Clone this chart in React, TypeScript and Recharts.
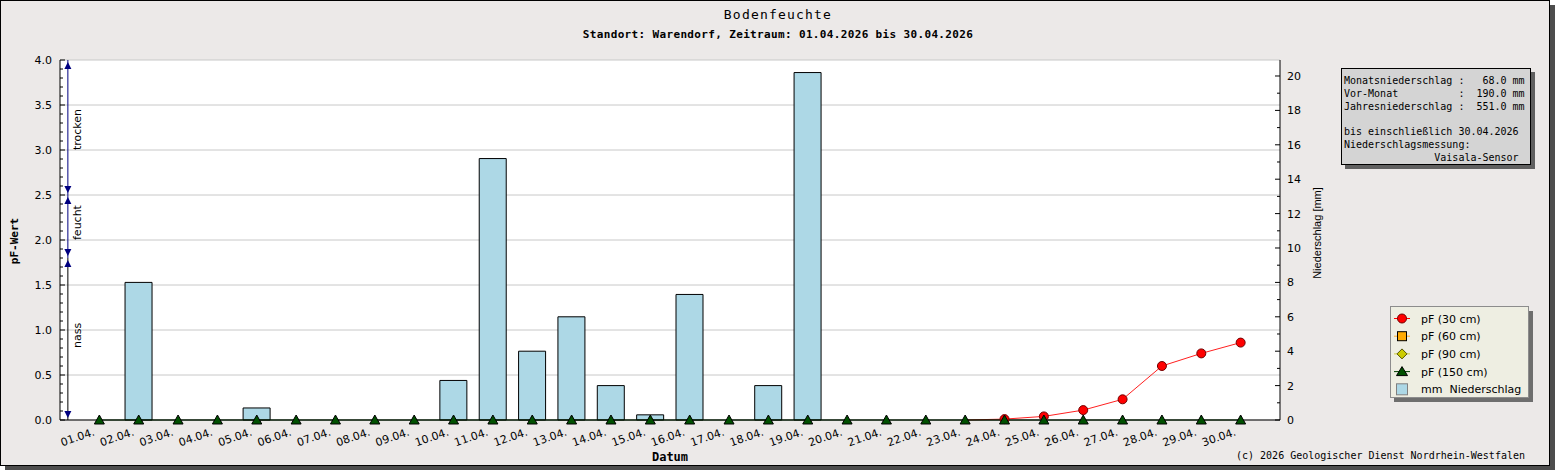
import React from "react";
import {
  ComposedChart,
  Bar,
  Line,
  XAxis,
  YAxis,
  CartesianGrid,
  ReferenceLine,
  ReferenceDot,
} from "recharts";

// Tage im April
const dayLabels = [
  "01.04.", "02.04.", "03.04.", "04.04.", "05.04.", "06.04.", "07.04.", "08.04.", "09.04.", "10.04.",
  "11.04.", "12.04.", "13.04.", "14.04.", "15.04.", "16.04.", "17.04.", "18.04.", "19.04.", "20.04.",
  "21.04.", "22.04.", "23.04.", "24.04.", "25.04.", "26.04.", "27.04.", "28.04.", "29.04.", "30.04.",
];

// Niederschlag in mm pro Tag
const rainMm = [
  0, 8.0, 0, 0, 0.7, 0, 0, 0, 0, 2.3,
  15.2, 4.0, 6.0, 2.0, 0.3, 7.3, 0, 2.0, 20.2, 0,
  0, 0, 0, 0, 0, 0, 0, 0, 0, 0,
];

// pF-Werte je Tiefe
const pf30cm = [
  null, null, null, null, null, null, null, null, null, null,
  null, null, null, null, null, null, null, null, null, null,
  null, null, 0, 0.01, 0.04, 0.11, 0.23, 0.6, 0.74, 0.86,
];
const pf60cm = [
  null, null, null, null, null, null, null, null, null, null,
  null, null, null, null, null, null, null, null, null, null,
  null, null, null, null, null, null, null, null, null, null,
];
const pf90cm = [
  null, null, null, null, null, null, null, null, null, null,
  null, null, null, null, null, null, null, null, null, null,
  null, null, null, null, null, null, null, null, null, null,
];
const pf150cm = [
  0, 0, 0, 0, 0, 0, 0, 0, 0, 0,
  0, 0, 0, 0, 0, 0, 0, 0, 0, 0,
  0, 0, 0, 0, 0, 0, 0, 0, 0, 0,
];

const PF_MAX = 4;
const MM_MAX = 20.93;
const pfMajorTicks = [0, 0.5, 1, 1.5, 2, 2.5, 3, 3.5, 4];
const pfTicks = Array.from({ length: 41 }, (_, i) => i / 10);
const mmTicks = Array.from({ length: 21 }, (_, i) => i);
const dayTicks = dayLabels.map((_, i) => i + 1);

// Bodenfeuchte-Bereiche (links am Rand)
const moistureZones = [
  { name: "trocken", from: 2.5, to: 4.0, labelAt: 3.0, line: "#000080" },
  { name: "feucht", from: 1.8, to: 2.5, labelAt: 2.0, line: "#000080" },
  { name: "nass", from: 0.0, to: 1.8, labelAt: 0.8, line: "#000000" },
];
const zoneX = 0.2;

const infoLines = [
  { text: "Monatsniederschlag :   68.0 mm", y: 83.5 },
  { text: "Vor-Monat          :  190.0 mm", y: 96.8 },
  { text: "Jahresniederschlag :  551.0 mm", y: 110.1 },
  { text: "bis einschließlich 30.04.2026", y: 134.5 },
  { text: "Niederschlagsmessung:", y: 147.8 },
  { text: "               Vaisala-Sensor", y: 160.9 },
];

const legendItems = [
  { label: "pF (30 cm)", kind: "circle" },
  { label: "pF (60 cm)", kind: "square" },
  { label: "pF (90 cm)", kind: "diamond" },
  { label: "pF (150 cm)", kind: "triangle" },
  { label: "mm  Niederschlag", kind: "bar" },
];

const SANS = "'DejaVu Sans', sans-serif";
const MONO = "'DejaVu Sans Mono', monospace";

const rows = dayLabels.map((label, i) => ({
  day: i + 1,
  label,
  rain: rainMm[i],
  pf30: pf30cm[i],
  pf60: pf60cm[i],
  pf90: pf90cm[i],
  pf150: pf150cm[i],
}));

const PfTick = (props: any) => {
  const { x, y, payload } = props;
  const v = payload.value;
  const major = Math.abs(v * 2 - Math.round(v * 2)) < 1e-6;
  return (
    <g>
      <line x1={x} x2={x + (major ? 5 : 3)} y1={y} y2={y} stroke="#000" />
      {major && (
        <text x={x - 8} y={y + 4} textAnchor="end" fontSize={11} fontFamily={SANS} fill="#000">
          {v.toFixed(1)}
        </text>
      )}
    </g>
  );
};

const MmTick = (props: any) => {
  const { x, y, payload } = props;
  const v = payload.value;
  const major = v % 2 === 0;
  return (
    <g>
      <line x1={x} x2={x - (major ? 5 : 3)} y1={y} y2={y} stroke="#000" />
      {major && (
        <text x={x + 7} y={y + 4} textAnchor="start" fontSize={11} fontFamily={SANS} fill="#000">
          {v}
        </text>
      )}
    </g>
  );
};

const DayTick = (props: any) => {
  const { x, y, payload } = props;
  const tx = x - 4;
  const ty = y + 15;
  return (
    <text
      x={tx}
      y={ty}
      textAnchor="end"
      fontSize={11}
      fontFamily={SANS}
      fill="#000"
      transform={`rotate(-19, ${tx}, ${ty})`}
    >
      {dayLabels[payload.value - 1]}
    </text>
  );
};

const redDot = (props: any) => {
  const { cx, cy, index, value } = props;
  if (value === 0 || value == null) return <g key={`r${index}`} />;
  return <circle key={`r${index}`} cx={cx} cy={cy} r={4.5} fill="#ff0000" stroke="#700000" strokeWidth={1} />;
};

const greenDot = (props: any) => {
  const { cx, cy, index } = props;
  return (
    <path
      key={`g${index}`}
      d={`M${cx},${cy - 5} L${cx + 5},${cy + 4} L${cx - 5},${cy + 4} Z`}
      fill="#005000"
      stroke="#000"
      strokeWidth={1}
    />
  );
};

const upArrow = (props: any) => {
  const { cx, cy } = props;
  const t = cy + 2;
  return <path d={`M${cx},${t} L${cx + 3.5},${t + 7} L${cx - 3.5},${t + 7} Z`} fill="#000080" />;
};

const downArrow = (props: any) => {
  const { cx, cy } = props;
  const t = cy - 2;
  return <path d={`M${cx},${t} L${cx + 3.5},${t - 7} L${cx - 3.5},${t - 7} Z`} fill="#000080" />;
};

const zoneLabel = (name: string) => (props: any) => {
  const { cx, cy } = props;
  const tx = cx + 13;
  return (
    <text x={tx} y={cy} transform={`rotate(-90, ${tx}, ${cy})`} fontSize={11} fontFamily={SANS} fill="#000">
      {name}
    </text>
  );
};

// Gitterlinien nur an den Haupt-Ticks der pF-Achse
const gridLines = ({ offset }: any) =>
  pfMajorTicks.map((t) => offset.top + offset.height * (1 - t / PF_MAX));

const LegendMarker = ({ kind, cx, cy }: { kind: string; cx: number; cy: number }) => {
  if (kind === "circle")
    return (
      <g>
        <line x1={cx - 8} x2={cx + 8} y1={cy} y2={cy} stroke="#ff0000" />
        <circle cx={cx} cy={cy} r={4.5} fill="#ff0000" stroke="#700000" />
      </g>
    );
  if (kind === "square")
    return (
      <g>
        <line x1={cx - 8} x2={cx + 8} y1={cy} y2={cy} stroke="#ffb030" />
        <rect x={cx - 4.5} y={cy - 4.5} width={9} height={9} fill="#ffaa00" stroke="#000" />
      </g>
    );
  if (kind === "diamond")
    return (
      <g>
        <line x1={cx - 8} x2={cx + 8} y1={cy} y2={cy} stroke="#d0d040" />
        <path d={`M${cx},${cy - 5} L${cx + 5},${cy} L${cx},${cy + 5} L${cx - 5},${cy} Z`} fill="#cccc00" stroke="#555500" />
      </g>
    );
  if (kind === "triangle")
    return (
      <g>
        <line x1={cx - 8} x2={cx + 8} y1={cy} y2={cy} stroke="#004000" />
        <path d={`M${cx},${cy - 5} L${cx + 5.5},${cy + 4} L${cx - 5.5},${cy + 4} Z`} fill="#005000" stroke="#000" />
      </g>
    );
  return <rect x={cx - 5.5} y={cy - 5.5} width={11} height={11} fill="#add8e6" stroke="#808080" />;
};

export default function App() {
  return (
    <div style={{ position: "absolute", left: 0, top: 0, width: 1555, height: 470, fontFamily: SANS }}>
      <div
        style={{
          position: "absolute",
          left: 0,
          top: 0,
          width: 1548,
          height: 464,
          border: "1px solid #000",
          background: "#ece9e8",
          boxShadow: "5px 5px 0 #4d4d4d",
        }}
      >
        <ComposedChart width={1548} height={464} data={rows} margin={{ top: 59, right: 0, bottom: 0, left: 0 }}>
          <CartesianGrid
            yAxisId="pf"
            vertical={false}
            stroke="#c8c8c8"
            fill="#ffffff"
            fillOpacity={1}
            horizontalCoordinatesGenerator={gridLines}
          />
          <XAxis
            dataKey="day"
            type="number"
            domain={[0, 31]}
            ticks={dayTicks}
            interval={0}
            tickSize={0}
            tickMargin={0}
            tickLine={false}
            tick={DayTick}
            axisLine={{ stroke: "#000" }}
            height={45}
          />
          <YAxis
            yAxisId="pf"
            orientation="left"
            width={59}
            domain={[0, PF_MAX]}
            ticks={pfTicks}
            interval={0}
            tickSize={0}
            tickMargin={0}
            tickLine={false}
            tick={PfTick}
            axisLine={{ stroke: "#000" }}
          />
          <YAxis
            yAxisId="mm"
            orientation="right"
            width={269}
            domain={[0, MM_MAX]}
            ticks={mmTicks}
            interval={0}
            tickSize={0}
            tickMargin={0}
            tickLine={false}
            tick={MmTick}
            axisLine={{ stroke: "#000" }}
          />
          <Bar
            dataKey="rain"
            yAxisId="mm"
            barSize={27}
            fill="#add8e6"
            stroke="#000"
            strokeWidth={1}
            isAnimationActive={false}
          />
          <Line
            dataKey="pf30"
            yAxisId="pf"
            stroke="#ff2020"
            strokeWidth={1}
            dot={redDot}
            activeDot={false}
            isAnimationActive={false}
          />
          <Line dataKey="pf60" yAxisId="pf" stroke="#ffb030" dot={false} isAnimationActive={false} />
          <Line dataKey="pf90" yAxisId="pf" stroke="#d0d040" dot={false} isAnimationActive={false} />
          <Line
            dataKey="pf150"
            yAxisId="pf"
            stroke="#004000"
            strokeWidth={1}
            dot={greenDot}
            activeDot={false}
            isAnimationActive={false}
          />
          {moistureZones.map((z) => (
            <ReferenceLine
              key={`l-${z.name}`}
              yAxisId="pf"
              segment={[
                { x: zoneX, y: z.from },
                { x: zoneX, y: z.to },
              ]}
              stroke={z.line}
              strokeWidth={1}
            />
          ))}
          {moistureZones.map((z) => (
            <ReferenceDot key={`u-${z.name}`} yAxisId="pf" x={zoneX} y={z.to} shape={upArrow} />
          ))}
          {moistureZones.map((z) => (
            <ReferenceDot key={`d-${z.name}`} yAxisId="pf" x={zoneX} y={z.from} shape={downArrow} />
          ))}
          {moistureZones.map((z) => (
            <ReferenceDot key={`t-${z.name}`} yAxisId="pf" x={zoneX} y={z.labelAt} shape={zoneLabel(z.name)} />
          ))}
        </ComposedChart>
      </div>

      <svg
        width={1555}
        height={470}
        style={{ position: "absolute", left: 0, top: 0, pointerEvents: "none" }}
      >
        <text x={778} y={18.5} textAnchor="middle" fontFamily={MONO} fontSize={13} letterSpacing={1.2}>
          Bodenfeuchte
        </text>
        <text x={778} y={38} textAnchor="middle" fontFamily={MONO} fontSize={11} fontWeight="bold" letterSpacing={0.35}>
          Standort: Warendorf, Zeitraum: 01.04.2026 bis 30.04.2026
        </text>
        <text
          x={18}
          y={241}
          transform="rotate(-90, 18, 241)"
          textAnchor="middle"
          fontFamily={MONO}
          fontSize={11}
          fontWeight="bold"
        >
          pF-Wert
        </text>
        <text
          x={1321}
          y={233}
          transform="rotate(-90, 1321, 233)"
          textAnchor="middle"
          fontFamily="'Liberation Sans', sans-serif"
          fontSize={11}
        >
          Niederschlag [mm]
        </text>
        <text x={670} y={461} textAnchor="middle" fontFamily={MONO} fontSize={12} fontWeight="bold">
          Datum
        </text>
        <text x={1236} y={459} fontFamily={MONO} fontSize={10}>
          (c) 2026 Geologischer Dienst Nordrhein-Westfalen
        </text>

        {/* Info-Box */}
        <rect x={1345} y={72} width={190} height={97} fill="#606060" />
        <rect x={1341.5} y={68.5} width={189} height={96} fill="#d4d4d4" stroke="#000" />
        {infoLines.map((l) => (
          <text key={l.y} x={1344} y={l.y} fontFamily={MONO} fontSize={10} style={{ whiteSpace: "pre" }}>
            {l.text}
          </text>
        ))}

        {/* Legende */}
        <rect x={1394} y={311} width={139} height={91} fill="#6e6e6e" />
        <rect x={1390.5} y={306.5} width={138} height={91} fill="#eeeee2" stroke="#8c8c8c" />
        {legendItems.map((item, i) => {
          const cy = 318.5 + i * 17.7;
          return (
            <g key={item.label}>
              <LegendMarker kind={item.kind} cx={1402} cy={cy} />
              <text x={1421} y={cy + 4} fontFamily={SANS} fontSize={11} style={{ whiteSpace: "pre" }}>
                {item.label}
              </text>
            </g>
          );
        })}
      </svg>
    </div>
  );
}
